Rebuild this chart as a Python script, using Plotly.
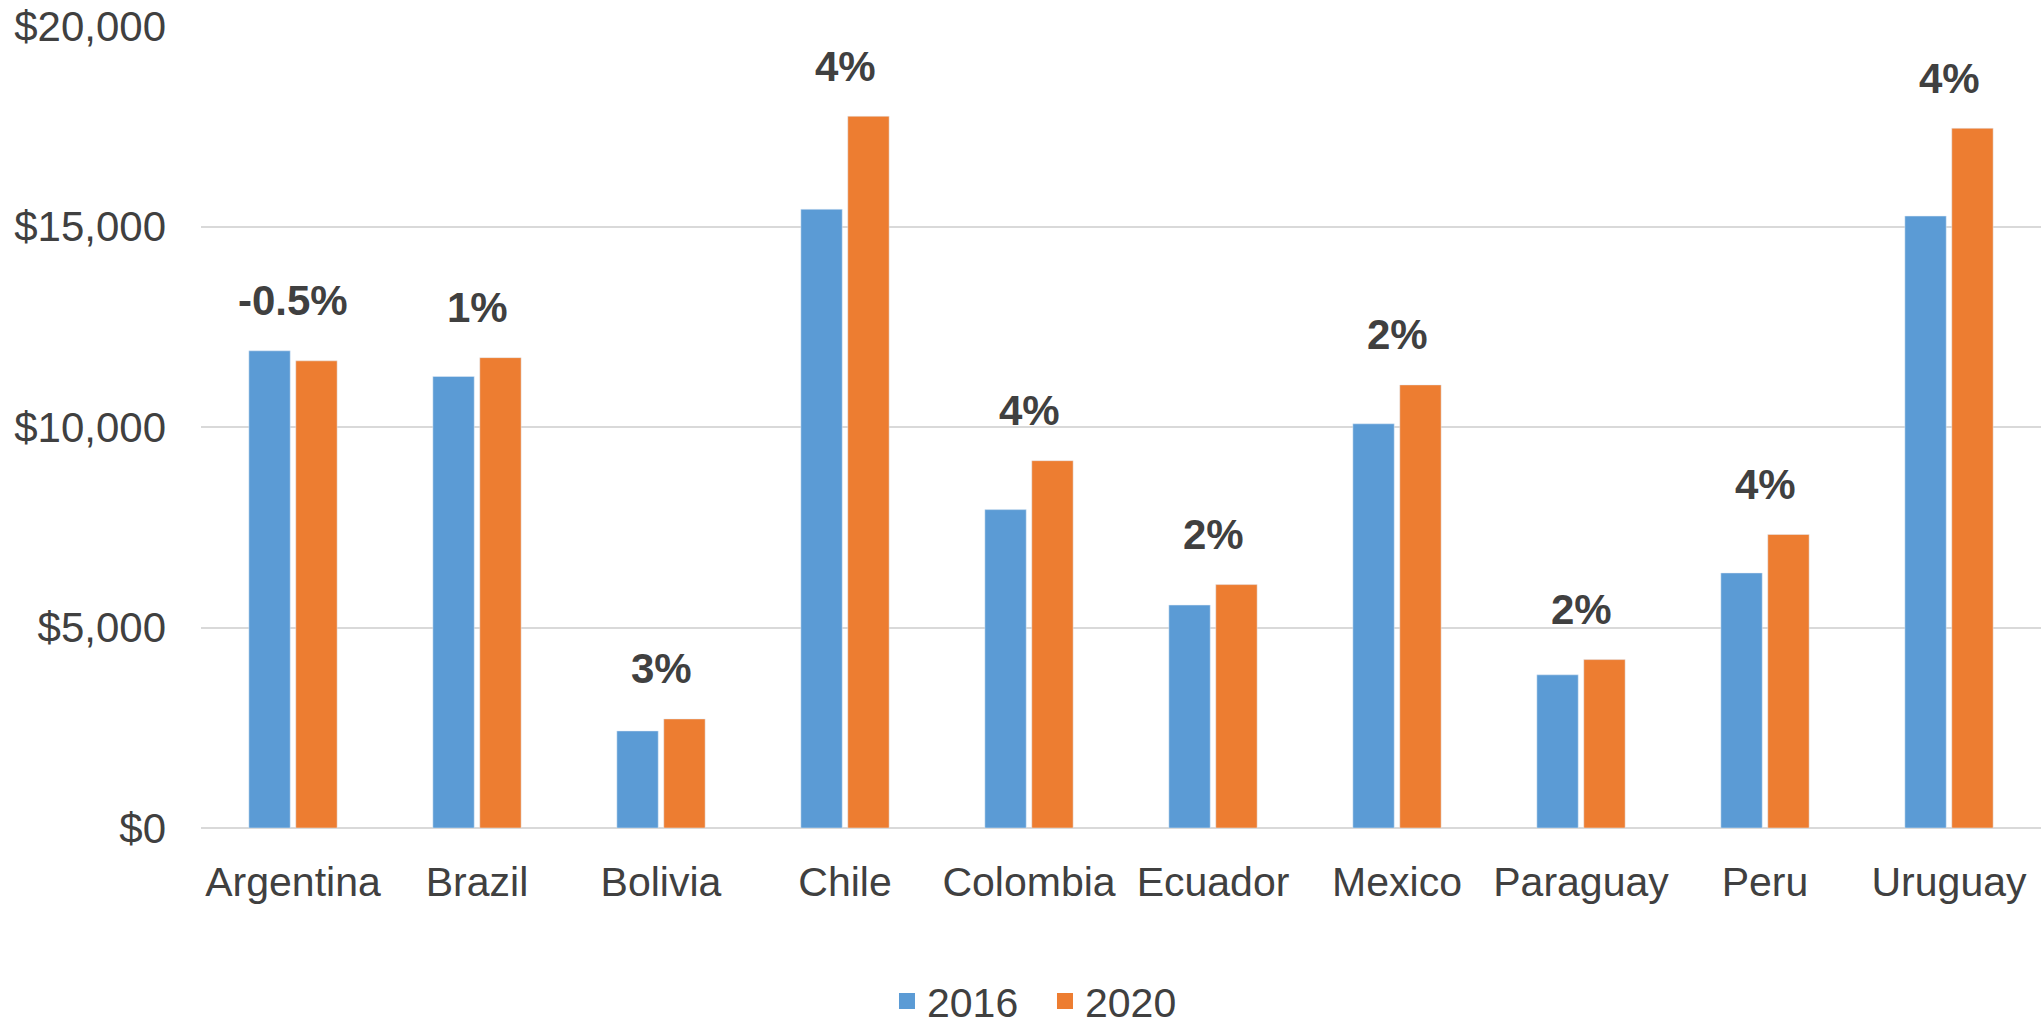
import plotly.graph_objects as go

# GDP per capita (US$) by country, 2016 vs 2020, with annual growth labels
countries = ["Argentina", "Brazil", "Bolivia", "Chile", "Colombia",
             "Ecuador", "Mexico", "Paraguay", "Peru", "Uruguay"]
gdp_2016 = [11900, 11260, 2420, 15430, 7940, 5560, 10080, 3820, 6360, 15260]
gdp_2020 = [11650, 11730, 2720, 17750, 9160, 6070, 11050, 4200, 7320, 17450]
growth_labels = ["-0.5%", "1%", "3%", "4%", "4%", "2%", "2%", "2%", "4%", "4%"]
y_ticks = [0, 5000, 10000, 15000, 20000]
y_tick_text = ["$0", "$5,000", "$10,000", "$15,000", "$20,000"]

BLUE = "#5B9BD5"
ORANGE = "#ED7D31"
TEXT = "#404040"
FONT = "Liberation Sans, Arial, sans-serif"

fig = go.Figure()
fig.add_trace(go.Bar(x=countries, y=gdp_2016, name="2016",
                     marker_color=BLUE, showlegend=False))
fig.add_trace(go.Bar(x=countries, y=gdp_2020, name="2020",
                     marker_color=ORANGE, showlegend=False))

# legend-only entries with larger square swatches
for name, color in [("2016", BLUE), ("2020", ORANGE)]:
    fig.add_trace(go.Scatter(x=[None], y=[None], mode="markers", name=name,
                             marker=dict(symbol="square", size=16, color=color)))

# growth labels above each country's taller bar
for c, a, b, lab in zip(countries, gdp_2016, gdp_2020, growth_labels):
    fig.add_annotation(x=c, y=max(a, b), xref="x", yref="y", text=f"<b>{lab}</b>",
                       showarrow=False, yanchor="middle", yshift=50,
                       font=dict(family=FONT, size=42, color=TEXT))

fig.update_layout(
    width=2041, height=1025,
    margin=dict(l=201, r=0, t=26, b=197, autoexpand=False),
    paper_bgcolor="white", plot_bgcolor="white",
    barmode="group", bargap=0.49, bargroupgap=0.118,
    font=dict(family=FONT, size=41, color=TEXT),
    legend=dict(orientation="h", xref="container", yref="paper",
                x=0.512, xanchor="center", y=-0.216, yanchor="middle",
                font=dict(family=FONT, size=41, color=TEXT), itemsizing="trace",
                entrywidth=113, entrywidthmode="pixels"),
)
fig.update_xaxes(showgrid=False, showline=False, ticks="", ticklabelstandoff=26,
                 automargin=False, tickfont=dict(family=FONT, size=41, color=TEXT))
fig.update_yaxes(range=[0, 20000], tickvals=y_ticks, ticktext=y_tick_text,
                 showgrid=True, gridcolor="#D9D9D9", gridwidth=1.5,
                 zeroline=True, zerolinecolor="#D9D9D9", zerolinewidth=1.5,
                 showline=False, ticks="", ticklabelstandoff=34, automargin=False,
                 tickfont=dict(family=FONT, size=42, color=TEXT))

fig.write_html("out.html")
